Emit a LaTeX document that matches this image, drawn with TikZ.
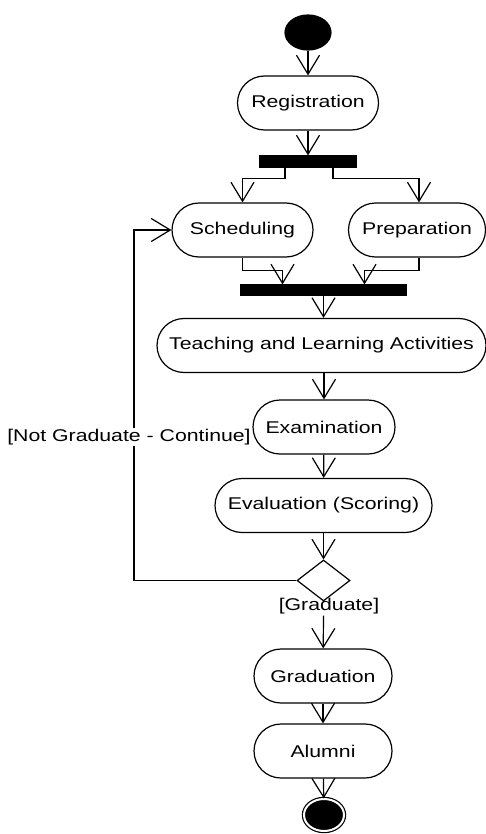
\documentclass[tikz,border=0pt]{standalone}
\usepackage{fontspec}
\setmainfont{Liberation Sans}[FakeStretch=1.25]
\usetikzlibrary{arrows.meta,shapes.geometric}
\begin{document}
\begin{tikzpicture}[x=1pt,y=-1pt,
  line width=1.2pt,
  every node/.style={font=\fontsize{17}{20}\selectfont},
  act/.style={draw, rectangle, rounded corners=27pt, minimum height=54pt, inner sep=0pt},
  bar/.style={draw, fill=black, inner sep=0pt},
  flow/.style={-{Straight Barb[length=19pt,width=23pt,line width=1.2pt]}},
  guard/.style={inner sep=1pt}]
\useasboundingbox (0,0) rectangle (486,834);

% activities
\node[ellipse, draw, fill=black, minimum width=46pt, minimum height=35pt, inner sep=0pt] (start) at (308,32.5) {};
\node[act, minimum width=141pt] (reg) at (308,103) {Registration};
\node[bar, minimum width=96pt, minimum height=11pt] (fork) at (308,161.5) {};
\node[act, minimum width=141pt] (sched) at (242.5,230) {Scheduling};
\node[act, minimum width=137pt] (prep) at (417,230) {Preparation};
\node[bar, minimum width=165pt, minimum height=10pt] (join) at (323.5,290) {};
\node[act, minimum width=329pt] (teach) at (321.5,345.5) {Teaching and Learning Activities};
\node[act, minimum width=142pt] (exam) at (324,427) {Examination};
\node[act, minimum width=217pt] (eval) at (323.5,505.5) {Evaluation (Scoring)};
\node[diamond, draw, minimum width=53pt, minimum height=41pt, inner sep=0pt] (dec) at (323.5,580.5) {};
\node[guard] (glab) at (329,606) {[Graduate]};
\node[act, minimum width=138pt] (grad) at (323,676) {Graduation};
\node[act, minimum width=138pt] (alum) at (323,751) {Alumni};
\node[ellipse, draw, fill=black, double=white, double distance=2pt, minimum width=40pt, minimum height=32pt, inner sep=0pt] (end) at (324,815) {};

\coordinate (gout) at (glab.south -| dec);

% flows
\draw[flow] (start) -- (reg);
\draw[flow] (reg) -- (fork);
\draw[flow] ([xshift=-23pt]fork.south) |- ++(0,11) -| (sched.north);
\draw[flow] ([xshift=25pt]fork.south) |- ++(0,11) -| ([xshift=2pt]prep.north);
\draw[flow] (sched.south) |- ++(0,13) -| ([xshift=-41pt]join.north);
\draw[flow] ([xshift=2pt]prep.south) |- ++(0,13) -| ([xshift=41pt]join.north);
\draw[flow] (join) -- (join |- teach.north);
\draw[flow] (teach.south -| exam) -- (exam);
\draw[flow] (exam) -- (eval);
\draw[flow] (eval) -- (dec);
\draw[flow] (gout) -- (grad);
\draw[flow] (grad) -- (alum);
\draw[flow] (alum) -- (end);

% loop back for continuing students
\draw[flow] (dec.west) -| (134,437) |- (sched.west);
\node[guard, fill=white] (nglab) at (129,437) {[Not Graduate - Continue]};
\end{tikzpicture}
\end{document}
